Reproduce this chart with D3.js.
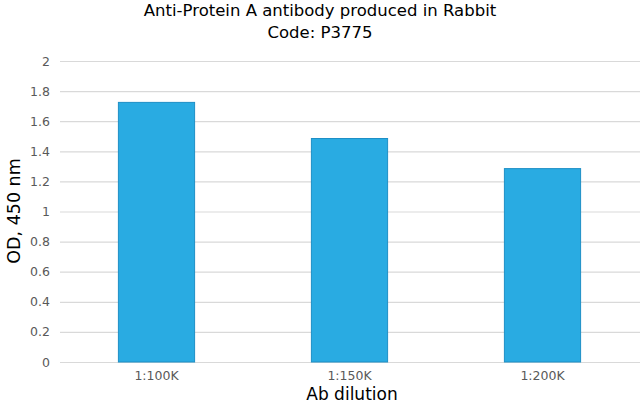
<!DOCTYPE html>
<html><head><meta charset="utf-8">
<script src="https://cdn.jsdelivr.net/npm/d3@7"></script>
<style>body{margin:0;background:#fff}svg{display:block;font-family:"DejaVu Sans",Verdana,sans-serif}</style>
</head><body><svg id="c" width="640" height="406"></svg>
<script>
const categories = ["1:100K", "1:150K", "1:200K"];
const values = [1.725, 1.485, 1.285];
const yTicks = [0, 0.2, 0.4, 0.6, 0.8, 1, 1.2, 1.4, 1.6, 1.8, 2];
const titleLines = ["Anti-Protein A antibody produced in Rabbit", "Code: P3775"];

const svg = d3.select("#c");
const x = d3.scaleBand().domain(categories).range([60, 639]).paddingInner(0.6).paddingOuter(0.3);
const y = d3.scaleLinear().domain([0, 2]).range([362, 61]);

svg.append("g").selectAll("line").data(yTicks).join("line")
  .attr("x1", 60).attr("x2", 640)
  .attr("y1", d => y(d) + 0.5).attr("y2", d => y(d) + 0.5)
  .attr("stroke", "#d9d9d9").attr("stroke-width", 1.2);

svg.append("g").selectAll("text").data(yTicks).join("text")
  .attr("x", 50).attr("y", d => y(d) + 4.5)
  .attr("text-anchor", "end").attr("font-size", 12.5).attr("fill", "#595959")
  .text(d => d);

svg.append("g").selectAll("rect").data(values).join("rect")
  .attr("x", (d, i) => x(categories[i]) + 0.5)
  .attr("y", d => y(d))
  .attr("width", x.bandwidth() - 1)
  .attr("height", d => y(0) - y(d))
  .attr("fill", "#29abe2").attr("stroke", "#1e8fc6").attr("stroke-width", 1);

svg.append("g").selectAll("text").data(categories).join("text")
  .attr("x", d => x(d) + x.bandwidth() / 2).attr("y", 380)
  .attr("text-anchor", "middle").attr("font-size", 12.5).attr("fill", "#595959")
  .text(d => d);

svg.append("text").attr("x", 352).attr("y", 400).attr("text-anchor", "middle")
  .attr("font-size", 17).attr("fill", "#000").text("Ab dilution");

svg.append("text").attr("transform", "translate(20,211) rotate(-90)").attr("text-anchor", "middle")
  .attr("font-size", 17.5).attr("fill", "#000").text("OD, 450 nm");

svg.append("g").selectAll("text").data(titleLines).join("text")
  .attr("x", 320).attr("y", (d, i) => 16 + i * 21.5).attr("text-anchor", "middle")
  .attr("font-size", 16.5).attr("fill", "#000").text(d => d);
</script></body></html>
